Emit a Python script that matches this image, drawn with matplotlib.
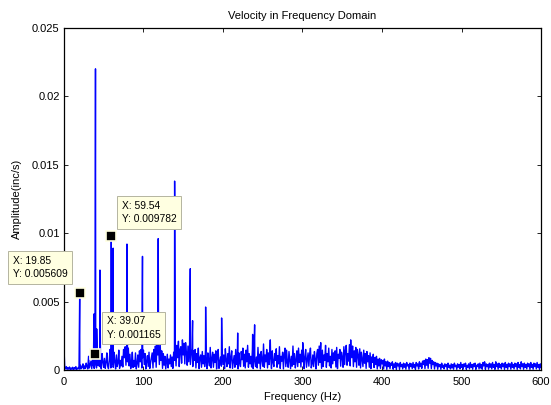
import numpy as np
import matplotlib.pyplot as plt

# noise floor, 1 Hz steps from 0 to 600 Hz, in units of 1e-5 inc/s
floor_amp = [
    180, 20, 8, 25, 5, 18, 6, 22, 4, 15,
    5, 20, 3, 17, 6, 25, 4, 14, 8, 28,
    6, 35, 10, 20, 45, 8, 30, 12, 50, 25,
    8, 100, 15, 40, 65, 10, 80, 30, 12, 70,
    50, 15, 90, 30, 130, 25, 45, 8, 120, 60,
    20, 85, 12, 55, 125, 30, 10, 70, 150, 15,
    40, 95, 20, 130, 60, 8, 110, 25, 50, 145,
    12, 70, 30, 100, 22, 150, 90, 170, 35, 180,
    60, 160, 30, 115, 10, 55, 130, 18, 70, 25,
    125, 8, 45, 110, 20, 140, 60, 150, 15, 90,
    145, 40, 120, 8, 65, 105, 25, 130, 12, 55,
    90, 125, 15, 150, 60, 175, 20, 200, 110, 185,
    40, 190, 70, 140, 12, 120, 35, 100, 8, 60,
    115, 15, 80, 45, 110, 25, 95, 12, 130, 70,
    160, 30, 180, 90, 210, 25, 150, 170, 50, 220,
    110, 195, 45, 200, 130, 35, 175, 60, 190, 40,
    100, 160, 25, 140, 70, 150, 15, 120, 55, 160,
    10, 90, 110, 20, 135, 45, 105, 25, 145, 60,
    10, 125, 70, 30, 165, 15, 80, 130, 20, 115,
    55, 140, 8, 100, 150, 12, 60, 95, 28, 130,
    40, 110, 10, 155, 70, 25, 120, 45, 170, 15,
    90, 140, 12, 60, 105, 20, 150, 40, 95, 8,
    125, 50, 25, 135, 75, 160, 28, 115, 15, 145,
    60, 180, 20, 120, 45, 100, 22, 150, 10, 130,
    70, 25, 95, 15, 165, 50, 115, 8, 135, 75,
    28, 190, 20, 110, 60, 150, 15, 125, 40, 160,
    90, 10, 140, 55, 25, 120, 70, 155, 20, 105,
    45, 170, 12, 100, 65, 130, 8, 110, 160, 25,
    145, 50, 20, 135, 75, 10, 100, 28, 175, 40,
    120, 15, 70, 140, 25, 160, 55, 115, 22, 145,
    60, 130, 10, 95, 150, 20, 70, 125, 28, 115,
    160, 15, 45, 110, 25, 135, 80, 8, 120, 150,
    35, 175, 55, 130, 12, 145, 25, 110, 70, 180,
    20, 120, 60, 160, 30, 100, 15, 150, 45, 125,
    70, 140, 22, 165, 10, 115, 85, 150, 28, 130,
    95, 20, 170, 40, 145, 180, 35, 120, 65, 185,
    30, 160, 90, 175, 25, 140, 60, 165, 20, 150,
    110, 35, 155, 15, 130, 80, 25, 145, 50, 120,
    12, 135, 60, 105, 20, 125, 10, 95, 55, 115,
    18, 90, 40, 100, 8, 80, 30, 85, 12, 75,
    45, 70, 8, 80, 30, 60, 5, 65, 25, 55,
    10, 50, 35, 60, 6, 45, 20, 55, 4, 50,
    30, 45, 5, 55, 25, 40, 8, 50, 20, 45,
    6, 55, 30, 40, 5, 50, 25, 45, 10, 55,
    20, 40, 5, 55, 30, 45, 8, 60, 25, 50,
    12, 65, 40, 70, 10, 80, 35, 75, 12, 90,
    50, 85, 10, 70, 40, 60, 8, 55, 30, 50,
    6, 45, 25, 40, 5, 50, 20, 35, 8, 45,
    25, 40, 4, 50, 20, 35, 8, 45, 15, 40,
    6, 50, 25, 35, 5, 45, 20, 40, 8, 55,
    20, 40, 6, 45, 25, 50, 5, 35, 20, 45,
    8, 55, 20, 40, 6, 45, 25, 50, 5, 35,
    25, 45, 8, 50, 15, 40, 6, 55, 30, 60,
    5, 45, 25, 40, 6, 50, 20, 45, 8, 55,
    20, 40, 5, 60, 25, 45, 6, 50, 20, 40,
    8, 50, 25, 45, 5, 55, 20, 40, 6, 50,
    25, 45, 6, 55, 20, 40, 8, 50, 25, 45,
    5, 55, 20, 40, 8, 60, 25, 45, 6, 50,
    20, 40, 8, 50, 25, 45, 5, 55, 20, 40,
    6, 50, 25, 45, 8, 55, 20, 40, 5, 45,
    20,
]

# harmonic peaks
peak_freq = [19.85, 37.9, 39.07, 39.7, 41.2, 45.3, 59.54, 61.9, 79.3, 98.8,
             118.6, 139.2, 158.9, 161.8, 178.2, 198.3, 218.5, 237.3, 239.8,
             259.5, 300.3, 322.9, 360.6]
peak_amp = [0.005609, 0.0041, 0.001165, 0.0220, 0.0030, 0.0073, 0.009782,
            0.0089, 0.0092, 0.0083, 0.0096, 0.0138, 0.0074, 0.0036, 0.0046,
            0.0038, 0.0027, 0.0026, 0.0033, 0.0022, 0.0020, 0.0020, 0.0022]

# data tips
tip_freq = [19.85, 59.54, 39.07]
tip_amp = [0.005609, 0.009782, 0.001165]

f = np.concatenate([np.arange(len(floor_amp)), peak_freq])
a = np.concatenate([np.array(floor_amp) * 1e-5, peak_amp])
order = np.argsort(f, kind="stable")
f = f[order]
a = a[order]

plt.rcParams['font.family'] = ['Liberation Sans', 'DejaVu Sans']
fig = plt.figure(figsize=(5.51, 4.05), dpi=100)
ax = fig.add_axes([0.116, 0.0864, 0.866, 0.845])

ax.plot(f, a, color=(0, 0, 1), lw=1.0)

ax.set_xlim(0, 600)
ax.set_ylim(0, 0.025)
ax.set_xticks([0, 100, 200, 300, 400, 500, 600])
ax.set_yticks([0, 0.005, 0.01, 0.015, 0.02, 0.025])
ax.set_yticklabels(['0', '0.005', '0.01', '0.015', '0.02', '0.025'])
ax.tick_params(direction='in', top=True, right=True, length=3, width=0.6,
               labelsize=8, pad=3)
ax.tick_params(axis='x', pad=5)
for s in ax.spines.values():
    s.set_linewidth(0.9)

ax.set_title('Velocity in Frequency Domain', fontsize=8, pad=6.5)
ax.set_xlabel('Frequency (Hz)', fontsize=8, labelpad=3.5)
ax.set_ylabel('Amplitude(inc/s)', fontsize=8, labelpad=7)

# box centres of the data tips (data units)
box_pos = [(-29.6, 0.00749), (107.5, 0.01151), (87.4, 0.00307)]
for fx, ay, (bx, by) in zip(tip_freq, tip_amp, box_pos):
    ax.text(bx, by, 'X: %g\nY: %g' % (fx, ay), fontsize=7.4, ha='center',
            va='center', multialignment='left', linespacing=1.45, clip_on=False,
            bbox=dict(boxstyle='square,pad=0.45', fc='#ffffe1', ec='#b4b4a0',
                      lw=0.7), zorder=5)
    ax.plot(fx, ay, 's', ms=7, mfc='black', mec='#ffffe1', mew=1.2,
            zorder=6, clip_on=False)

fig.savefig('out.png', dpi=100)
